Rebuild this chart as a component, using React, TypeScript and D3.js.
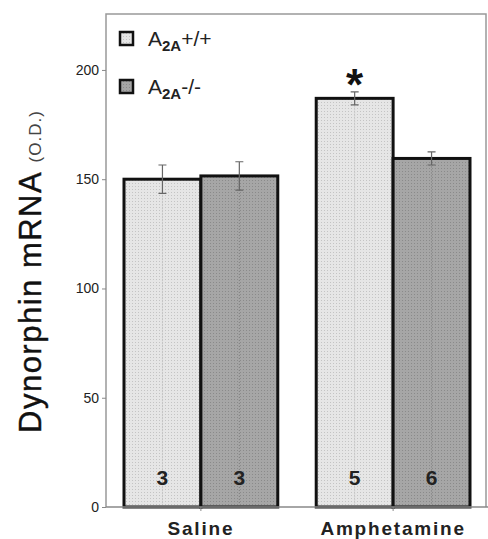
import { useRef, useEffect } from "react";
import * as d3 from "d3";

const groups = ["Saline", "Amphetamine"];
const genotypes = ["A2A+/+", "A2A-/-"];
const means = [
  [150, 151.5],
  [187, 159.5],
];
const sems = [
  [6.5, 6.5],
  [3, 3],
];
const counts = [
  ["3", "3"],
  ["5", "6"],
];
const yTicks = [0, 50, 100, 150, 200];

const W = 488;
const H = 539;

export default function App() {
  const svgRef = useRef<SVGSVGElement | null>(null);

  useEffect(() => {
    const svg = d3.select(svgRef.current);
    svg.selectAll("*").remove();

    const left = 106;
    const right = 486;
    const top = 14;
    const bottom = 507;
    const font = "Liberation Sans, Arial, sans-serif";

    const y = d3.scaleLinear().domain([0, 225.6]).range([bottom, top]);
    const x0 = d3.scaleBand().domain(groups).range([124, 470]).paddingInner(0.2);
    const x1 = d3.scaleBand().domain(genotypes).range([0, x0.bandwidth()]);

    // dotted fills
    const defs = svg.append("defs");
    const fills = [
      { id: "light", bg: "#e6e6e6", dot: "#c4c4c4" },
      { id: "dark", bg: "#a6a6a6", dot: "#8a8a8a" },
    ];
    fills.forEach((f) => {
      const p = defs
        .append("pattern")
        .attr("id", f.id)
        .attr("patternUnits", "userSpaceOnUse")
        .attr("width", 3)
        .attr("height", 3);
      p.append("rect").attr("width", 3).attr("height", 3).attr("fill", f.bg);
      p.append("rect").attr("width", 1).attr("height", 1).attr("fill", f.dot);
    });

    // frame
    svg
      .append("path")
      .attr("d", `M${left},${bottom}V${top}H${right}V${bottom}`)
      .attr("fill", "none")
      .attr("stroke", "#999")
      .attr("stroke-width", 1.5);

    // y axis ticks
    const yAxis = svg
      .append("g")
      .attr("transform", `translate(${left},0)`)
      .call(d3.axisLeft(y).tickValues(yTicks).tickSize(4).tickPadding(3));
    yAxis.select(".domain").remove();
    yAxis.selectAll("line").attr("stroke", "#888");
    yAxis
      .selectAll("text")
      .attr("font-family", font)
      .attr("font-size", 14)
      .attr("fill", "#222");

    // bars
    groups.forEach((g, gi) => {
      const gx = x0(g)!;
      genotypes.forEach((gt, ti) => {
        const bx = gx + x1(gt)!;
        const bw = x1.bandwidth();
        svg
          .append("rect")
          .attr("x", bx)
          .attr("y", y(means[gi][ti]))
          .attr("width", bw)
          .attr("height", y(0) - y(means[gi][ti]))
          .attr("fill", `url(#${ti === 0 ? "light" : "dark"})`)
          .attr("stroke", "#111")
          .attr("stroke-width", 3);

        // faint dotted guide line
        const cx = bx + bw / 2;
        svg
          .append("line")
          .attr("x1", cx)
          .attr("x2", cx)
          .attr("y1", y(means[gi][ti]) + 2)
          .attr("y2", y(0) - 2)
          .attr("stroke", ti === 0 ? "#bbb" : "#7a7a7a")
          .attr("stroke-dasharray", "1,2");

        // error bars
        const hi = y(means[gi][ti] + sems[gi][ti]);
        const lo = y(means[gi][ti] - sems[gi][ti]);
        svg
          .append("path")
          .attr("d", `M${cx},${hi}V${lo}M${cx - 4},${hi}H${cx + 4}M${cx - 4},${lo}H${cx + 4}`)
          .attr("stroke", "#666")
          .attr("stroke-width", 1.2)
          .attr("fill", "none");

        svg
          .append("text")
          .attr("x", cx)
          .attr("y", y(0) - 22)
          .attr("text-anchor", "middle")
          .attr("font-family", font)
          .attr("font-weight", "bold")
          .attr("font-size", 21)
          .attr("fill", "#222")
          .text(counts[gi][ti]);
      });

      svg
        .append("text")
        .attr("x", gx + x0.bandwidth() / 2)
        .attr("y", 535)
        .attr("text-anchor", "middle")
        .attr("font-family", font)
        .attr("font-weight", "bold")
        .attr("font-size", 19)
        .attr("letter-spacing", 1.8)
        .attr("fill", "#222")
        .text(g);
    });

    // x axis line
    svg
      .append("line")
      .attr("x1", left)
      .attr("x2", W)
      .attr("y1", bottom)
      .attr("y2", bottom)
      .attr("stroke", "#888")
      .attr("stroke-width", 1.5);
    groups.forEach((g) => {
      const cx = x0(g)! + x0.bandwidth() / 2;
      svg
        .append("line")
        .attr("x1", cx)
        .attr("x2", cx)
        .attr("y1", bottom)
        .attr("y2", bottom + 4)
        .attr("stroke", "#888");
    });

    // significance asterisk
    const ampX = x0("Amphetamine")! + x1("A2A+/+")! + x1.bandwidth() / 2;
    svg
      .append("text")
      .attr("x", ampX)
      .attr("y", y(means[1][0] + sems[1][0]) + 8)
      .attr("text-anchor", "middle")
      .attr("font-family", font)
      .attr("font-weight", "bold")
      .attr("font-size", 44)
      .attr("fill", "#111")
      .text("*");

    // legend
    genotypes.forEach((gt, i) => {
      const ly = 32 + i * 48;
      svg
        .append("rect")
        .attr("x", 120)
        .attr("y", ly)
        .attr("width", 13)
        .attr("height", 13)
        .attr("fill", `url(#${i === 0 ? "light" : "dark"})`)
        .attr("stroke", "#111")
        .attr("stroke-width", 2.5);
      const t = svg
        .append("text")
        .attr("x", 148)
        .attr("y", ly + 14)
        .attr("font-family", font)
        .attr("font-size", 21)
        .attr("fill", "#222");
      t.append("tspan").text("A");
      t.append("tspan").attr("font-size", 15).attr("font-weight", "bold").attr("dy", 5).text("2A");
      t.append("tspan").attr("dy", -5).text(gt.slice(3));
    });

    // y label
    const lab = svg
      .append("text")
      .attr("transform", `translate(41,433) rotate(-90)`)
      .attr("text-anchor", "start")
      .attr("font-family", font)
      .attr("fill", "#111");
    lab
      .append("tspan")
      .attr("font-size", 31)
      .attr("letter-spacing", 1.5)
      .attr("stroke", "#111")
      .attr("stroke-width", 0.4)
      .text("Dynorphin mRNA ");
    lab.append("tspan").attr("font-size", 17).attr("letter-spacing", 1).attr("fill", "#444").text("(O.D.)");
  }, []);

  return <svg ref={svgRef} width={W} height={H} style={{ position: "absolute", left: 0, top: 0 }} />;
}
